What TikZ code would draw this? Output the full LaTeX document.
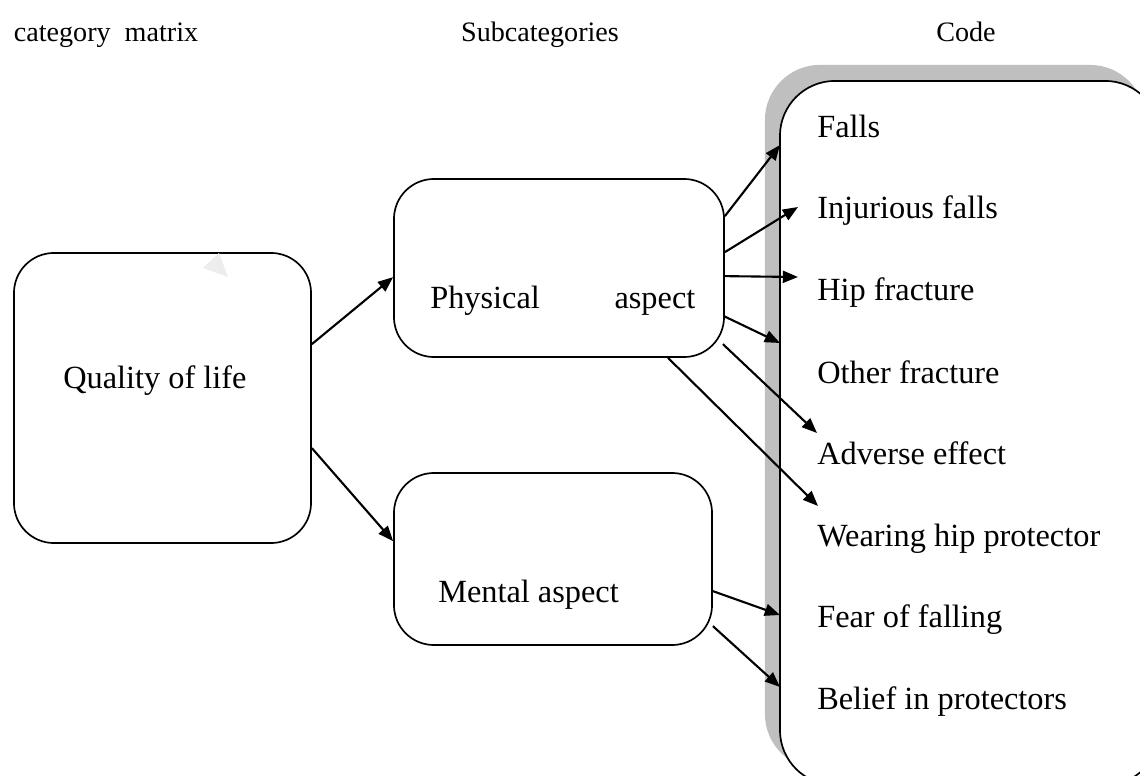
\documentclass[tikz,border=0pt]{standalone}
\usepackage{fontspec}
\setmainfont{Liberation Serif}
\usetikzlibrary{arrows.meta,positioning,calc,shadows}

\begin{document}
\begin{tikzpicture}[x=0.025cm, y=-0.025cm,
  box/.style={rectangle, draw, line width=1.2pt, rounded corners=#1, inner sep=0pt},
  txt/.style={anchor=base west, inner sep=0pt, font=\fontsize{23pt}{27pt}\selectfont},
  head/.style={anchor=base, inner sep=0pt, font=\fontsize{20pt}{24pt}\selectfont},
  arr/.style={-{Triangle[length=3.8mm, width=3mm]}, line width=1.5pt}
]
  \useasboundingbox (0,0) rectangle (1140,776);
  \clip (0,0) rectangle (1140,776);

  % column titles
  \node[head] (hcat) at (106,41) {category\ \ matrix};
  \node[head] (hsub) at (540,41) {Subcategories};
  \node[head] (hcode) at (966,41) {Code};

  % code list with its shadow
  \node[box=1.375cm, fill=white, minimum width=9.5cm, minimum height=17.6cm,
    drop shadow={shadow xshift=-0.375cm, shadow yshift=0.4cm, fill=black!25, opacity=1}]
    (code) at (970,433) {};

  \node[txt] (c1) at (817,137) {Falls};
  \node[txt] (c2) at (817,218) {Injurious falls};
  \node[txt] (c3) at (817,300) {Hip fracture};
  \node[txt] (c4) at (817,383) {Other fracture};
  \node[txt] (c5) at (817,464) {Adverse effect};
  \node[txt] (c6) at (817,546) {Wearing hip protector};
  \node[txt] (c7) at (817,627) {Fear of falling};
  \node[txt] (c8) at (817,709) {Belief in protectors};

  % category and subcategories
  \node[box=1cm, minimum width=7.425cm, minimum height=7.25cm] (qol) at (162.5,398) {};
  \node[txt] (qolt) at (63,388) {Quality of life};
  \fill[black!7] (219,253) -- (203,268) -- (228,277) -- cycle;

  \node[box=1cm, minimum width=8.25cm, minimum height=4.45cm] (phys) at (559,268) {};
  \node[txt, text width=6.625cm] (physt) at (430,308) {Physical\hfill aspect};

  \node[box=1cm, minimum width=7.95cm, minimum height=4.3cm] (ment) at (553,559) {};
  \node[txt] (mentt) at (438,602) {Mental aspect};

  % arrow ends
  \coordinate (e1) at (780,145);
  \coordinate (e2) at (798,207);
  \coordinate (e3) at (798,277);
  \coordinate (e4) at (780,343);
  \coordinate (e5) at (817,433);
  \coordinate (e6) at (818,506);
  \coordinate (e7) at (780,615);
  \coordinate (e8) at (780,687);

  \draw[arr] ($(qol.north east)+(0,92)$) -- ($(phys.north west)+(0,99)$);
  \draw[arr] ($(qol.north east)+(0,196)$) -- ($(ment.north west)+(0,69)$);

  \draw[arr] ($(phys.north east)+(0,38)$) -- (e1);
  \draw[arr] ($(phys.north east)+(0,74)$) -- (e2);
  \draw[arr] ($(phys.north east)+(0,98)$) -- (e3);
  \draw[arr] ($(phys.north east)+(-1,138)$) -- (e4);
  \draw[arr] ($(phys.north east)+(-2,166)$) -- (e5);
  \draw[arr] ($(phys.south)+(109,0)$) -- (e6);

  \draw[arr] ($(ment.north east)+(0,119)$) -- (e7);
  \draw[arr] ($(ment.north east)+(0,154)$) -- (e8);
\end{tikzpicture}
\end{document}
